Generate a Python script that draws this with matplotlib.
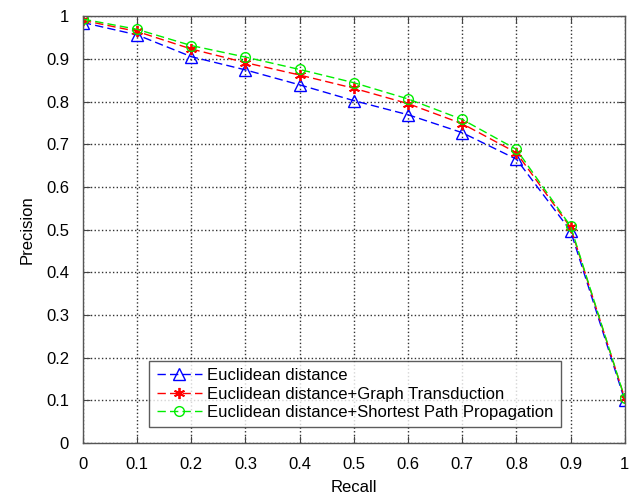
import matplotlib.pyplot as plt
import numpy as np

plt.rcParams['font.family'] = ['Liberation Sans', 'DejaVu Sans']

# Recall values (x axis)
recall = [0, 0.1, 0.2, 0.3, 0.4, 0.5, 0.6, 0.7, 0.8, 0.9, 1.0]

# Precision for each method
euclid = [0.985, 0.956, 0.905, 0.874, 0.839, 0.802, 0.769, 0.727, 0.665, 0.497, 0.100]
graph_td = [0.990, 0.964, 0.923, 0.891, 0.862, 0.831, 0.795, 0.748, 0.680, 0.505, 0.105]
shortest = [0.993, 0.969, 0.931, 0.904, 0.875, 0.844, 0.806, 0.758, 0.688, 0.508, 0.105]

labels = ['Euclidean distance',
          'Euclidean distance+Graph Transduction',
          'Euclidean distance+Shortest Path Propagation']
ticklabels = ['0', '0.1', '0.2', '0.3', '0.4', '0.5', '0.6', '0.7', '0.8', '0.9', '1']

fig = plt.figure(figsize=(6.33, 5.03), dpi=100)
ax = fig.add_axes([0.131, 0.119, 0.856, 0.849])

dash = (6, 3)
ax.plot(recall, euclid, '--', dashes=dash, color='#0000ff', marker='^', mfc='none',
        ms=8, lw=1, label=labels[0])
ax.plot(recall, graph_td, '--', dashes=dash, color='#ff0000', marker=(6, 2, 0), ms=8,
        mew=1.3, lw=1, label=labels[1])
ax.plot(recall, shortest, '--', dashes=dash, color='#00ee00', marker='o', mfc='none',
        ms=7, lw=1, label=labels[2])

ax.set_xlim(0, 1)
ax.set_ylim(0, 1)
ax.set_xticks(np.arange(0, 1.01, 0.1))
ax.set_yticks(np.arange(0, 1.01, 0.1))
ax.set_xticklabels(ticklabels)
ax.set_yticklabels(ticklabels)
ax.tick_params(direction='in', top=True, right=True, labelsize=12,
               length=5, color='#444444')
ax.tick_params(axis='x', pad=10)
ax.tick_params(axis='y', pad=10)
for s in ax.spines.values():
    s.set_color('#555555')
    s.set_linewidth(1)

ax.grid(True, linestyle=':', color='#333333', linewidth=1)
ax.set_xlabel('Recall', fontsize=12, labelpad=6)
ax.set_ylabel('Precision', fontsize=12, labelpad=8)

leg = ax.legend(loc='lower left', bbox_to_anchor=(0.122, 0.037), fontsize=12,
                frameon=True, fancybox=False, edgecolor='#333333',
                handlelength=2.7, handletextpad=0.35, borderaxespad=0,
                labelspacing=0.2, borderpad=0.45)
leg.get_frame().set_linewidth(1)

fig.savefig('out.png', dpi=100)
